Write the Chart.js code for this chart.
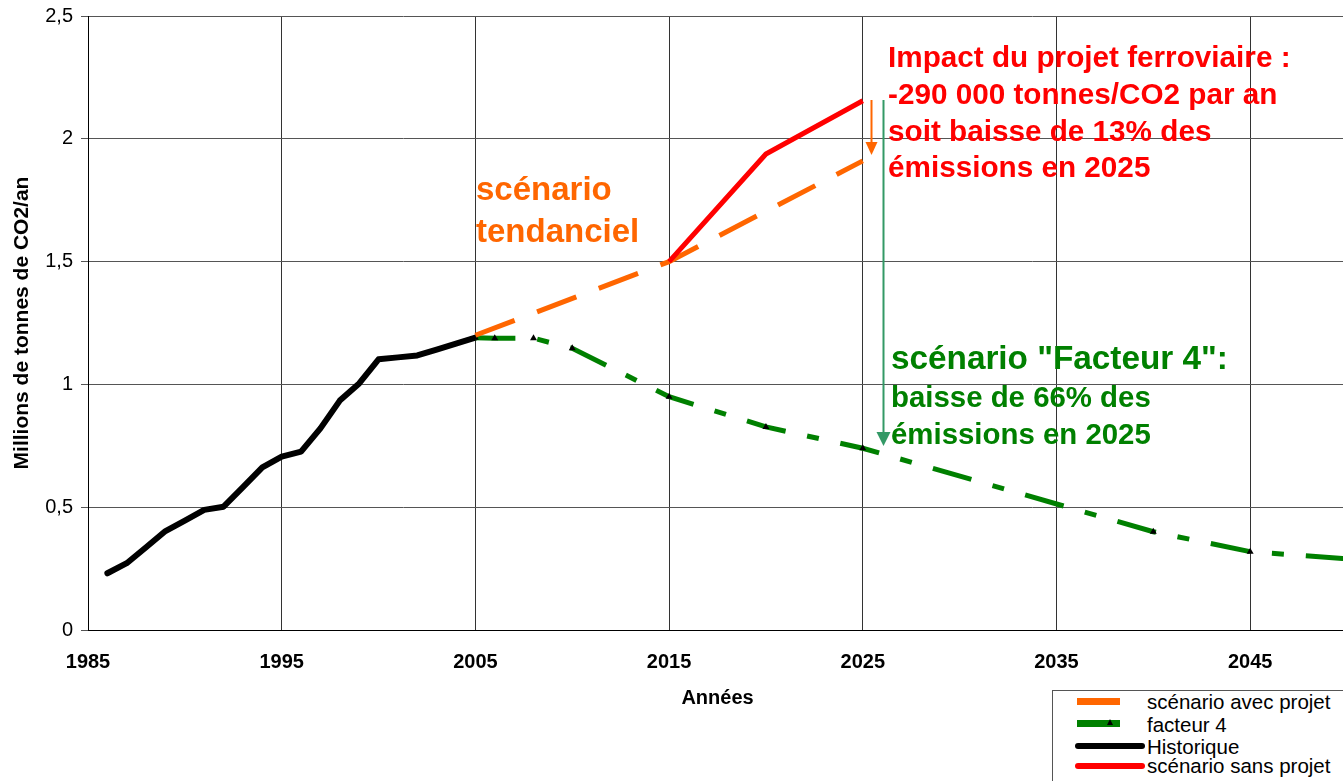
<!DOCTYPE html>
<html lang="fr">
<head>
<meta charset="utf-8">
<title>Émissions de CO2 - projet ferroviaire</title>
<script src="https://cdn.jsdelivr.net/npm/chart.js@4.4.1/dist/chart.umd.min.js"></script>
<style>
    html, body { margin: 0; padding: 0; background: #fff; overflow: hidden; }
    #wrap { position: relative; width: 1351px; height: 781px; }
    #co2Chart { position: absolute; left: 0; top: 0; }
    .legend-box { position: absolute; left: 1052px; top: 690px; width: 320px; height: 120px; border: 1px solid #555; background: #fff; }
    .swatch { position: absolute; }
    .tri { position: absolute; width: 0; height: 0; border-left: 3px solid transparent; border-right: 3px solid transparent; border-bottom: 6px solid #000; }
    .legend-text { position: absolute; left: 1147px; font: 20.5px "Liberation Sans", Arial, sans-serif; line-height: 20px; color: #000; white-space: nowrap; }
</style>
</head>
<body>
<div id="wrap">
    <canvas id="co2Chart" width="1351" height="781"></canvas>
    <div class="legend-box"></div>
    <div class="swatch" style="left:1077px;top:698px;width:43px;height:7px;background:#FF6600"></div>
    <div class="legend-text" style="top:692px">scénario avec projet</div>
    <div class="swatch" style="left:1077px;top:720px;width:43px;height:7px;background:#008000"></div>
    <div class="tri" style="left:1107px;top:719px"></div>
    <div class="legend-text" style="top:715px">facteur 4</div>
    <div class="swatch" style="left:1075px;top:743px;width:70px;height:6px;background:#000;border-radius:3px"></div>
    <div class="legend-text" style="top:737px">Historique</div>
    <div class="swatch" style="left:1075px;top:763px;width:70px;height:6px;background:#FF0000;border-radius:3px"></div>
    <div class="legend-text" style="top:756px">scénario sans projet</div>
</div>
<script>
// Data (millions of tonnes of CO2 per year)
const historyYears = [1986, 1987, 1988, 1989, 1990, 1991, 1992, 1993, 1994, 1995,
                      1996, 1997, 1998, 1999, 2000, 2001, 2002, 2003, 2004, 2005];
const historyValues = [0.231, 0.272, 0.337, 0.403, 0.445, 0.489, 0.502, 0.582, 0.662, 0.706,
                       0.726, 0.821, 0.934, 1.004, 1.102, 1.110, 1.118, 1.142, 1.166, 1.19];

const withProjectYears = [2005, 2015, 2025];
const withProjectValues = [1.2, 1.5, 1.91];

const withoutProjectYears = [2015, 2020, 2025];
const withoutProjectValues = [1.5, 1.938, 2.155];

const factor4Years = [2005, 2006, 2008, 2010, 2015, 2020, 2025, 2040, 2045, 2050];
const factor4Values = [1.19, 1.188, 1.188, 1.147, 0.95, 0.827, 0.74, 0.40, 0.319, 0.29];

const xTickYears = [1985, 1995, 2005, 2015, 2025, 2035, 2045];
const yTickValues = [0, 0.5, 1, 1.5, 2, 2.5];

const FONT = '"Liberation Sans", Arial, sans-serif';

function toPoints(xs, ys) {
    return xs.map((x, i) => ({ x: x, y: ys[i] }));
}

function drawArrow(ctx, x, yStart, yTip, headLen, halfWidth, color) {
    ctx.strokeStyle = color;
    ctx.fillStyle = color;
    ctx.lineWidth = 2;
    ctx.beginPath();
    ctx.moveTo(x, yStart);
    ctx.lineTo(x, yTip - headLen + 1);
    ctx.stroke();
    ctx.beginPath();
    ctx.moveTo(x - halfWidth, yTip - headLen);
    ctx.lineTo(x + halfWidth, yTip - headLen);
    ctx.lineTo(x, yTip);
    ctx.closePath();
    ctx.fill();
}

// Text labels and arrows drawn over the plot
const annotationPlugin = {
    id: 'annotations',
    afterDraw(chart) {
        const ctx = chart.ctx;
        ctx.save();
        drawArrow(ctx, 871.5, 100, 155, 13, 6, '#FF6600');
        drawArrow(ctx, 883.5, 100, 446, 14, 7, '#339966');

        ctx.textAlign = 'left';
        ctx.textBaseline = 'alphabetic';

        ctx.fillStyle = '#FF6600';
        ctx.font = 'bold 33px ' + FONT;
        ctx.fillText('scénario', 476, 200);
        ctx.fillText('tendanciel', 476, 242);

        ctx.fillStyle = '#FF0000';
        ctx.font = 'bold 29.7px ' + FONT;
        ctx.fillText('Impact du projet ferroviaire :', 888, 67);
        ctx.fillText('-290 000 tonnes/CO2 par an', 888, 104);
        ctx.fillText('soit baisse de 13% des', 888, 141);
        ctx.fillText('émissions en 2025', 888, 177);

        ctx.fillStyle = '#008000';
        ctx.font = 'bold 33.3px ' + FONT;
        ctx.fillText('scénario "Facteur 4":', 891, 369);
        ctx.font = 'bold 29.4px ' + FONT;
        ctx.fillText('baisse de 66% des', 891, 407);
        ctx.fillText('émissions en 2025', 891, 444);
        ctx.restore();
    }
};

const ctx = document.getElementById('co2Chart');
const co2Chart = new Chart(ctx, {
    type: 'line',
    data: {
        datasets: [
            {
                label: 'scénario sans projet',
                data: toPoints(withoutProjectYears, withoutProjectValues),
                borderColor: '#FF0000',
                borderWidth: 5,
                pointRadius: 0,
                borderJoinStyle: 'round',
                order: 0
            },
            {
                label: 'scénario avec projet',
                data: toPoints(withProjectYears, withProjectValues),
                borderColor: '#FF6600',
                borderWidth: 5,
                borderDash: [42, 24],
                pointRadius: 0,
                order: 1
            },
            {
                label: 'facteur 4',
                data: toPoints(factor4Years, factor4Values),
                borderColor: '#008000',
                borderWidth: 5,
                borderDash: [40, 22, 12, 22],
                pointStyle: 'triangle',
                pointRadius: 4,
                pointBackgroundColor: '#000',
                pointBorderColor: '#000',
                pointBorderWidth: 0,
                order: 2
            },
            {
                label: 'Historique',
                data: toPoints(historyYears, historyValues),
                borderColor: '#000',
                borderWidth: 6,
                pointRadius: 0,
                borderCapStyle: 'round',
                borderJoinStyle: 'round',
                order: 3
            }
        ]
    },
    options: {
        responsive: false,
        animation: false,
        devicePixelRatio: 1,
        layout: { padding: { top: 16, left: 0, right: 0, bottom: 0 } },
        plugins: {
            legend: { display: false },
            tooltip: { enabled: false }
        },
        scales: {
            x: {
                type: 'linear',
                min: 1985,
                max: 2050,
                afterBuildTicks: scale => { scale.ticks = xTickYears.map(v => ({ value: v })); },
                afterFit: scale => { scale.height = 151; },
                grid: { color: '#333', lineWidth: 1, drawTicks: false },
                border: { color: '#000', width: 1 },
                ticks: {
                    padding: 20,
                    color: '#000',
                    autoSkip: false,
                    maxRotation: 0,
                    font: { family: FONT, size: 20, weight: 'bold' },
                    callback: v => String(v)
                },
                title: {
                    display: true,
                    text: 'Années',
                    color: '#000',
                    font: { family: FONT, size: 20, weight: 'bold' },
                    padding: { top: 0, bottom: 71 }
                }
            },
            y: {
                min: 0,
                max: 2.5,
                afterBuildTicks: scale => { scale.ticks = yTickValues.map(v => ({ value: v })); },
                afterFit: scale => {
                    scale.width = 88;
                    scale.paddingTop = 0;
                    scale.paddingBottom = 0;
                },
                grid: { color: '#555', lineWidth: 1, drawTicks: true, tickLength: 7 },
                border: { color: '#000', width: 1 },
                ticks: {
                    padding: 8,
                    color: '#000',
                    font: { family: FONT, size: 20 },
                    callback: v => String(v).replace('.', ',')
                },
                title: {
                    display: true,
                    text: 'Millions de tonnes de CO2/an',
                    color: '#000',
                    font: { family: FONT, size: 21, weight: 'bold' },
                    padding: { top: 10, bottom: 0 }
                }
            }
        }
    },
    plugins: [annotationPlugin]
});
</script>
</body>
</html>
